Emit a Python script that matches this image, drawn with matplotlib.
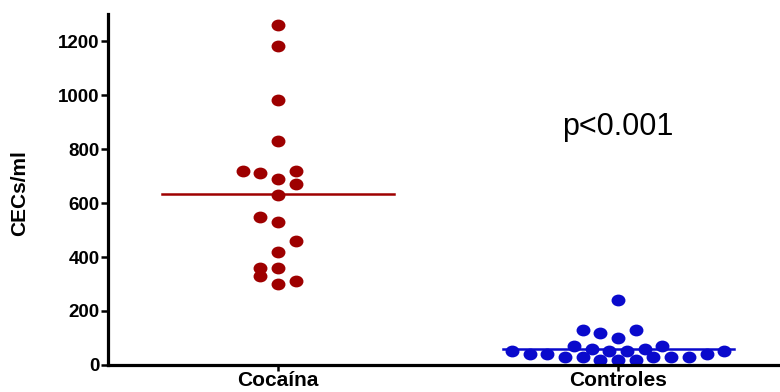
import numpy as np
import matplotlib
matplotlib.use("Agg")
import matplotlib.pyplot as plt
from matplotlib.path import Path
from matplotlib.transforms import Affine2D

plt.rcParams['font.family'] = ['Liberation Sans', 'DejaVu Sans']

groups = ['Cocaína', 'Controles']

cocaina = [1260, 1180, 980, 830, 720, 710, 690, 720, 670, 630,
           550, 530, 460, 420, 360, 360, 330, 300, 310]
cocaina_col = [0, 0, 0, 0, -2, -1, 0, 1, 1, 0,
               -1, 0, 1, 0, -1, 0, -1, 0, 1]

controles = [240, 130, 120, 130, 100, 70, 70, 60, 50, 50, 60,
             50, 40, 40, 30, 30, 20, 20, 20, 30, 30, 30, 40, 50]
controles_col = [0, -2, -1, 1, 0, -2.5, 2.5, -1.5, -0.5, 0.5, 1.5,
                 -6, -5, -4, -3, -2, -1, 0, 1, 2, 3, 4, 5, 6]

cocaina_mean = 632
controles_mean = 60

red = '#9e0000'
blue = '#0a0acc'
col_w = 0.052

# slightly wide dot like in the original
dot = Path.unit_circle().transformed(Affine2D().scale(1.2, 1.0))

fig = plt.figure(figsize=(7.8, 3.92), dpi=100)
ax = fig.add_axes([0.1385, 0.069, 0.8615, 0.895])

for i, (vals, cols, c, m) in enumerate([(cocaina, cocaina_col, red, cocaina_mean),
                                        (controles, controles_col, blue, controles_mean)]):
    x = i + np.array(cols) * col_w
    ax.plot(x, vals, linestyle='none', marker=dot, ms=9, color=c, mec=c)
    ax.plot([i - 0.34, i + 0.34], [m, m], color=c, lw=1.8, zorder=1)

ax.set_xlim(-0.5, 1.476)
ax.set_ylim(0, 1300)
ax.set_yticks(range(0, 1201, 200))
ax.set_xticks([0, 1])
ax.set_xticklabels(groups, fontsize=15, fontweight='bold')
for lab in ax.get_yticklabels():
    lab.set_fontsize(13.5)
    lab.set_fontweight('bold')

ax.set_ylabel('CECs/ml', fontsize=15, fontweight='bold')
ax.yaxis.set_label_coords(-0.117, 0.49)
ax.text(1.0, 880, 'p<0.001', fontsize=22, ha='center', va='center')

for s in ['top', 'right']:
    ax.spines[s].set_visible(False)
for s in ['left', 'bottom']:
    ax.spines[s].set_linewidth(2.3)
ax.tick_params(axis='y', length=5, width=1.8, pad=1)
ax.tick_params(axis='x', length=4.5, width=1.8, pad=0)

fig.savefig('out.png', dpi=100)
